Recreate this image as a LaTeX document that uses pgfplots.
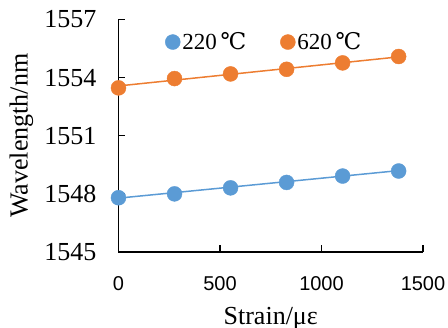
\documentclass[border=0pt]{standalone}
\usepackage{fontspec}
\setmainfont{Liberation Serif}
\setsansfont{Liberation Sans}
\newfontfamily\dvs{DejaVu Serif}
\usepackage{pgfplots}
\pgfplotsset{compat=1.18}
\definecolor{xlblue}{HTML}{5B9BD5}
\definecolor{xlorange}{HTML}{ED7D31}
\begin{document}
\begin{tikzpicture}
\begin{axis}[
  scale only axis,
  width=304.5pt, height=232.5pt,
  xmin=0, xmax=1500, ymin=1545, ymax=1557,
  xtick={0,500,1000,1500},
  ytick={1545,1548,1551,1554,1557},
  axis x line=bottom, axis y line=left,
  axis line style={-, line width=1.3pt, black},
  tick align=inside,
  major tick length=6.5pt,
  tick style={line width=1.3pt, black},
  /pgf/number format/assume math mode=true,
  /pgf/number format/1000 sep={},
  xticklabel style={font=\sffamily\fontsize{20}{22}\selectfont, inner sep=0pt, yshift=-24pt},
  yticklabel style={font=\fontsize{26}{28}\selectfont, inner sep=0pt, xshift=-22pt},
  xlabel={Strain/με},
  ylabel={Wavelength/nm},
  xlabel style={font=\fontsize{26}{28}\selectfont, inner sep=0pt, at={(0.5,0)}, anchor=north, yshift=-55pt},
  ylabel style={font=\fontsize{26}{28}\selectfont, inner sep=0pt, at={(0,0.5)}, anchor=center, xshift=0pt, yshift=97pt},
  legend style={draw=none, fill=none, inner sep=0pt, at={(0.153,0.903)}, anchor=west,
    font=\fontsize{23}{25}\selectfont, legend columns=2,
    /tikz/every even column/.append style={column sep=32pt}},
  legend cell align=left,
  legend image code/.code={\draw[#1] plot coordinates {(0pt,0pt)};},
  clip=false,
]
\addplot[xlblue, line width=1.5pt, forget plot] coordinates {(0,1547.78) (1380,1549.2)};
\addplot[xlorange, line width=1.5pt, forget plot] coordinates {(0,1553.57) (1380,1555.07)};
\addplot[only marks, mark=*, mark size=7.5pt, xlblue, mark options={fill=xlblue, draw=xlblue}] coordinates {
(0,1547.80) (276,1548.0) (552,1548.31) (828,1548.59) (1104,1548.92) (1380,1549.18)};
\addlegendentry{220\,{\dvs ℃}}
\addplot[only marks, mark=*, mark size=7.5pt, xlorange, mark options={fill=xlorange, draw=xlorange}] coordinates {
(0,1553.47) (276,1553.95) (552,1554.19) (828,1554.43) (1104,1554.76) (1380,1555.09)};
\addlegendentry{620\,{\dvs ℃}}
\coordinate (ll) at (rel axis cs:0,0);
\coordinate (ur) at (rel axis cs:1,1);
\end{axis}
\pgfresetboundingbox
\path ([shift={(-118.5pt,-76pt)}]ll) rectangle ([shift={(25pt,19.5pt)}]ur);
\end{tikzpicture}
\end{document}
